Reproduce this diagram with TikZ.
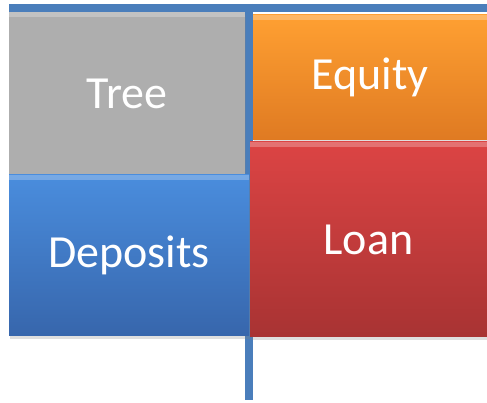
\documentclass[tikz,border=0pt]{standalone}
\usepackage{fontspec}
\setmainfont{Carlito}
\usetikzlibrary{shadows}
\definecolor{rule}{HTML}{4A7EBB}
\definecolor{treegray}{HTML}{AEAEAE}
\definecolor{eqtop}{HTML}{FFA032}
\definecolor{eqbot}{HTML}{DF7A22}
\definecolor{loantop}{HTML}{DC4444}
\definecolor{loanbot}{HTML}{A83333}
\definecolor{deptop}{HTML}{4A8DDD}
\definecolor{depbot}{HTML}{3766AC}
\tikzset{
  acct/.style={rectangle, inner sep=0pt, text=white, font=\fontsize{46}{50}\selectfont,
    drop shadow={opacity=0.25, shadow xshift=1pt, shadow yshift=-3pt},
    path picture={\fill[white, opacity=0.25] (path picture bounding box.north west)
      rectangle ([yshift=-5pt]path picture bounding box.north east);}},
}
\begin{document}
\begin{tikzpicture}[x=1pt, y=1pt]
    \useasboundingbox (0,0) rectangle (487,403);
    \coordinate (tl) at (9,395);
    \coordinate (tr) at (487,395);
    \coordinate (vt) at (249,399);
    \coordinate (vb) at (249,3);
    \draw[rule, line width=8pt] (tl) -- (tr);
    \draw[rule, line width=8pt] (vt) -- (vb);
    \node[acct, minimum width=236pt, minimum height=163pt, fill=treegray] (tree) at (127,309.5) {Tree};
    \node[acct, minimum width=240pt, minimum height=161pt, top color=deptop, bottom color=depbot] (deposits) at (129,147.5) {Deposits};
    \node[acct, minimum width=234pt, minimum height=125pt, top color=eqtop, bottom color=eqbot] (equity) at (370,325.5) {Equity};
    \node[acct, minimum width=237pt, minimum height=195pt, top color=loantop, bottom color=loanbot] (loan) at (368.5,163.5) {Loan};
\end{tikzpicture}
\end{document}
